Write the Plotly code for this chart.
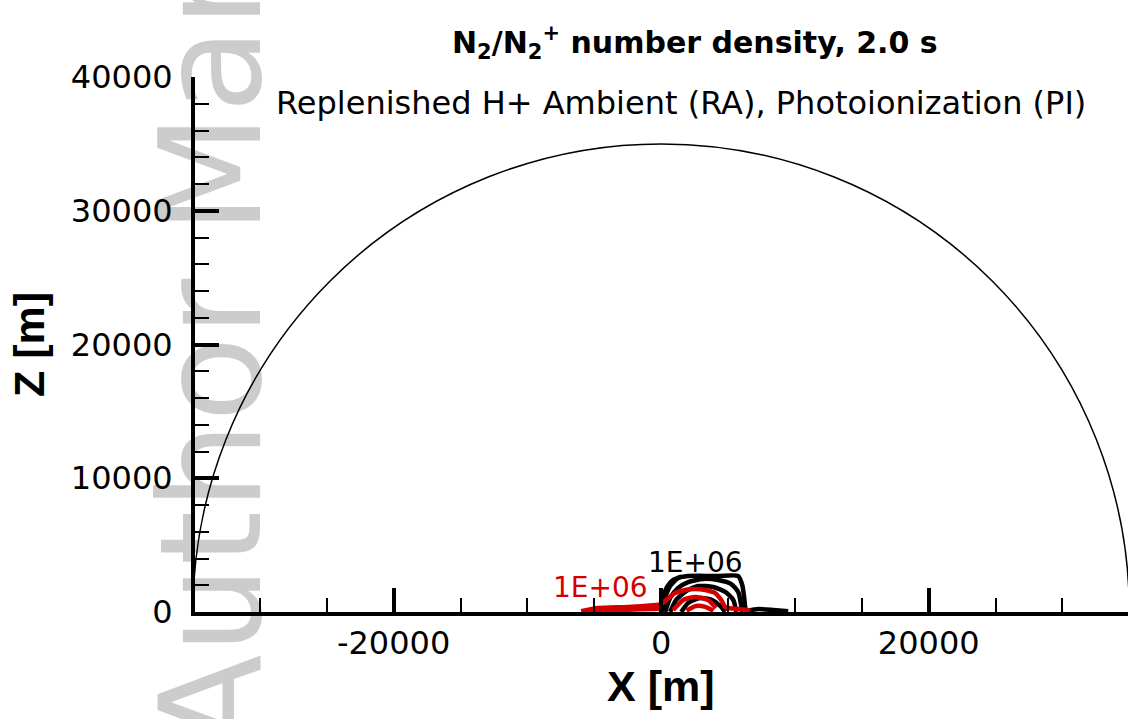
import plotly.graph_objects as go

# ---- axes / labels -------------------------------------------------------
x_tick_vals = [-20000, 0, 20000]
x_tick_text = ["-20000", "0", "20000"]
z_tick_vals = [0, 10000, 20000, 30000, 40000]
z_tick_text = ["0", "10000", "20000", "30000", "40000"]
x_range = [-34850, 34900]
z_range = [0, 40000]
domain_radius = 35000          # hemispherical simulation boundary [m]

title_text = "N<sub>2</sub>/N<sub>2</sub><sup>+</sup> number density, 2.0 s"
subtitle_text = "Replenished H+ Ambient (RA), Photoionization (PI)"
x_title = "X [m]"
z_title = "Z [m]"
contour_label = "1E+06"

# ---- N2 contour lines (black) [m] ----------------------------------------
n2_line1_x = [75, 220, 670, 1270, 2020, 3200, 4260, 5760, 6060, 6210, 6360, 7260, 8380, 9500]
n2_line1_z = [0, 900, 1940, 2540, 2690, 2700, 2690, 2690, 2020, 1050, 150, 220, 150, 60]
n2_line2_x = [300, 670, 1270, 2020, 3140, 4260, 5240, 5760, 5980, 6060]
n2_line2_z = [0, 1050, 1800, 2240, 2470, 2390, 2090, 1500, 520, 0]
n2_line3_x = [670, 1120, 1870, 2770, 3890, 4790, 5390, 5610]
n2_line3_z = [0, 900, 1570, 1940, 1870, 1500, 900, 0]
n2_line4_x = [1500, 2020, 2920, 3810, 4410, 4790]
n2_line4_z = [0, 670, 1050, 900, 450, 0]
n2_line5_x = [150, 450, 900, 1500]
n2_line5_z = [1200, 1900, 2400, 2650]

# ---- N2+ contour lines (red) [m] -----------------------------------------
n2p_line1_x = [-5980, -4710, -2470, -600, 0, 370, 1050, 1800, 2540, 3290, 4040, 4490, 4790, 5760, 6660]
n2p_line1_z = [60, 300, 380, 500, 600, 900, 1420, 1650, 1720, 1650, 1420, 900, 370, 220, 120]
n2p_line2_x = [900, 1650, 2540, 3500, 4100]
n2p_line2_z = [150, 900, 1120, 900, 300]
n2p_line3_x = [1900, 2600, 3300, 3900]
n2p_line3_z = [100, 450, 380, 80]
n2p_line4_x = [-5500, -3500, -1500, 0]
n2p_line4_z = [40, 150, 200, 250]

black_lines = [(n2_line1_x, n2_line1_z), (n2_line2_x, n2_line2_z),
               (n2_line3_x, n2_line3_z), (n2_line4_x, n2_line4_z),
               (n2_line5_x, n2_line5_z)]
red_lines = [(n2p_line1_x, n2p_line1_z), (n2p_line2_x, n2p_line2_z),
             (n2p_line3_x, n2p_line3_z), (n2p_line4_x, n2p_line4_z)]

# label anchors (data coords)
n2_label_pos = (2550, 3700)
n2p_label_pos = (-4500, 1800)

BLACK = "#000000"
RED = "#d40000"

fig = go.Figure()

for xs, zs in black_lines:
    fig.add_trace(go.Scatter(x=xs, y=zs, mode="lines", showlegend=False,
                             line=dict(color=BLACK, width=4.5, shape="spline", smoothing=0.6),
                             hoverinfo="skip"))
for xs, zs in red_lines:
    fig.add_trace(go.Scatter(x=xs, y=zs, mode="lines", showlegend=False,
                             line=dict(color=RED, width=4.5, shape="spline", smoothing=0.6),
                             hoverinfo="skip"))

# domain boundary (semicircle)
fig.add_shape(type="circle", xref="x", yref="y",
              x0=-domain_radius, y0=-domain_radius, x1=domain_radius, y1=domain_radius,
              line=dict(color="black", width=1.5), layer="above")

tick_font = dict(family="DejaVu Sans", size=32, color="black")
axis_title_font = dict(family="Liberation Sans", size=43, color="black", weight="bold")

fig.update_layout(
    width=1128, height=719,
    margin=dict(l=195, r=0, t=77, b=107, autoexpand=False),
    paper_bgcolor="white", plot_bgcolor="white",
    showlegend=False,
    title=dict(text=title_text, x=0.616, xanchor="center", y=1 - 42 / 719, yanchor="middle",
               font=dict(family="DejaVu Sans", size=30, color="black", weight="bold")),
    xaxis=dict(range=x_range, tickvals=x_tick_vals, ticktext=x_tick_text,
               ticks="inside", ticklen=24, tickwidth=3.5,
               tickcolor="black", showline=True, linewidth=4, linecolor="black",
               showgrid=False, zeroline=False, tickfont=tick_font, ticklabelstandoff=0,
               minor=dict(dtick=5000, tick0=0, ticks="inside", ticklen=14, tickwidth=1.8,
                          tickcolor="black", showgrid=False)),
    yaxis=dict(range=z_range, tickvals=z_tick_vals, ticktext=z_tick_text,
               ticks="inside", ticklen=24, tickwidth=3.5,
               tickcolor="black", showline=True, linewidth=4, linecolor="black",
               showgrid=False, zeroline=False, tickfont=tick_font, ticklabelstandoff=12,
               minor=dict(dtick=2000, tick0=0, ticks="inside", ticklen=14, tickwidth=1.8,
                          tickcolor="black", showgrid=False),
               title=dict(text=z_title, font=axis_title_font, standoff=14)),
)

annotations = [
    dict(text=subtitle_text, xref="paper", yref="paper", x=(681 - 195) / 933, y=(612 - 103) / 535,
         xanchor="center", yanchor="middle", showarrow=False,
         font=dict(family="DejaVu Sans", size=32, color="black")),
    # x-axis title, placed just under the tick labels
    dict(text=x_title, xref="x", yref="paper", x=0, y=(612 - 686) / 535,
         xanchor="center", yanchor="middle", showarrow=False, font=axis_title_font),
    dict(text=contour_label, xref="x", yref="y", x=n2_label_pos[0], y=n2_label_pos[1],
         xanchor="center", yanchor="middle", showarrow=False,
         font=dict(family="DejaVu Sans", size=28, color=BLACK)),
    dict(text=contour_label, xref="x", yref="y", x=n2p_label_pos[0], y=n2p_label_pos[1],
         xanchor="center", yanchor="middle", showarrow=False,
         font=dict(family="DejaVu Sans", size=28, color=RED)),
    # faint "Author Manuscript" watermark along the left edge
    dict(text="Author Manuscript", xref="paper", yref="paper", x=(212 - 195) / 933, y=(612 - 105) / 535,
         xanchor="center", yanchor="middle", showarrow=False, textangle=-90,
         font=dict(family="DejaVu Sans", size=140, color="rgba(0,0,0,0.2)")),
]
fig.update_layout(annotations=annotations)

fig.write_html("out.html")
